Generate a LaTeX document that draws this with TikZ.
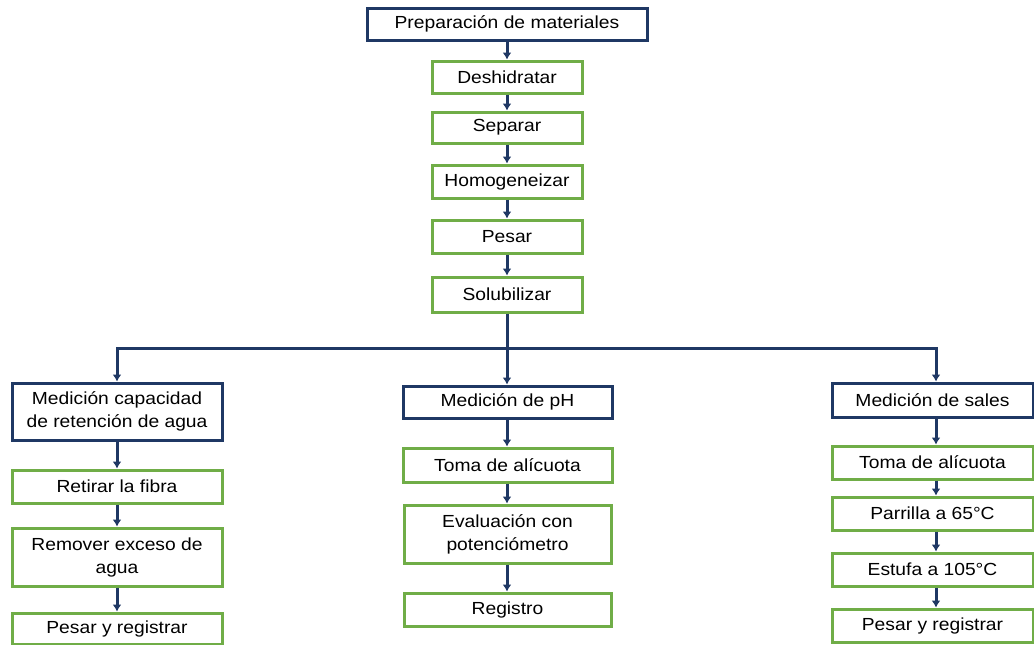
\documentclass[tikz,border=0pt]{standalone}
\usepackage{fontspec}
\setmainfont{Liberation Sans}[FakeStretch=1.1]
\usetikzlibrary{arrows.meta}
\definecolor{navy}{RGB}{31,56,100}
\definecolor{leaf}{RGB}{112,173,71}
\begin{document}
\begin{tikzpicture}[x=1pt,y=-1pt,
  box/.style={rectangle, line width=3pt, inner sep=0pt, align=center,
    font=\fontsize{17.5}{23}\selectfont, text=black, fill=white},
  headbox/.style={box, draw=navy},
  stepbox/.style={box, draw=leaf},
  conn/.style={draw=navy, line width=3pt, -{Latex[length=7pt,width=9pt]}},
  plainline/.style={draw=navy, line width=3pt}]
\fill[white] (0,0) rectangle (1034,645);
\useasboundingbox (0,0) rectangle (1034,645);
% main column
\node[headbox, minimum width=280, minimum height=32] (prep) at (507,24) {Preparación de materiales};
\node[stepbox, minimum width=150, minimum height=32] (desh) at (507,77) {Deshidratar};
\node[stepbox, minimum width=150, minimum height=31] (sep) at (507,127.5) {Separar};
\node[stepbox, minimum width=150, minimum height=33] (hom) at (507,181.5) {Homogeneizar};
\node[stepbox, minimum width=150, minimum height=33] (pes) at (507,236.5) {Pesar};
\node[stepbox, minimum width=150, minimum height=35] (sol) at (507,294.5) {Solubilizar};
% left column
\node[headbox, minimum width=210, minimum height=57] (cap) at (117,411.5) {Medición capacidad\\de retención de agua};
\node[stepbox, minimum width=210, minimum height=33] (ret) at (117,486.5) {Retirar la fibra};
\node[stepbox, minimum width=210, minimum height=58] (rem) at (117,557) {Remover exceso de\\agua};
\node[stepbox, minimum width=210, minimum height=31] (pyra) at (117,628.5) {Pesar y registrar};
% middle column
\node[headbox, minimum width=209, minimum height=32] (ph) at (507.5,402) {Medición de pH};
\node[stepbox, minimum width=209, minimum height=34] (tomb) at (507.5,465) {Toma de alícuota};
\node[stepbox, minimum width=207, minimum height=58] (eval) at (507.5,534) {Evaluación con\\potenciómetro};
\node[stepbox, minimum width=207, minimum height=33] (reg) at (507.5,609.5) {Registro};
% right column
\node[headbox, minimum width=201, minimum height=34] (sal) at (932.5,400) {Medición de sales};
\node[stepbox, minimum width=201, minimum height=33] (tomc) at (932.5,462.5) {Toma de alícuota};
\node[stepbox, minimum width=201, minimum height=33] (parr) at (932.5,513.5) {Parrilla a 65°C};
\node[stepbox, minimum width=201, minimum height=33] (est) at (932.5,569.5) {Estufa a 105°C};
\node[stepbox, minimum width=201, minimum height=33] (pyrc) at (932.5,625.5) {Pesar y registrar};
% connectors
\coordinate (j) at (507,348);
\coordinate (rx) at (936,0);
\draw[conn] (prep) -- (desh);
\draw[conn] (desh) -- (sep);
\draw[conn] (sep) -- (hom);
\draw[conn] (hom) -- (pes);
\draw[conn] (pes) -- (sol);
\draw[conn] (sol.south -| j) -- (ph.north -| j);
\draw[conn] (j) -| (cap.north);
\draw[conn] (j) -| (sal.north -| rx);
\draw[conn] (cap) -- (ret);
\draw[conn] (ret) -- (rem);
\draw[conn] (rem) -- (pyra);
\draw[conn] (ph.south -| j) -- (tomb.north -| j);
\draw[conn] (tomb.south -| j) -- (eval.north -| j);
\draw[conn] (eval.south -| j) -- (reg.north -| j);
\draw[conn] (sal.south -| rx) -- (tomc.north -| rx);
\draw[conn] (tomc.south -| rx) -- (parr.north -| rx);
\draw[conn] (parr.south -| rx) -- (est.north -| rx);
\draw[conn] (est.south -| rx) -- (pyrc.north -| rx);
\end{tikzpicture}
\end{document}
